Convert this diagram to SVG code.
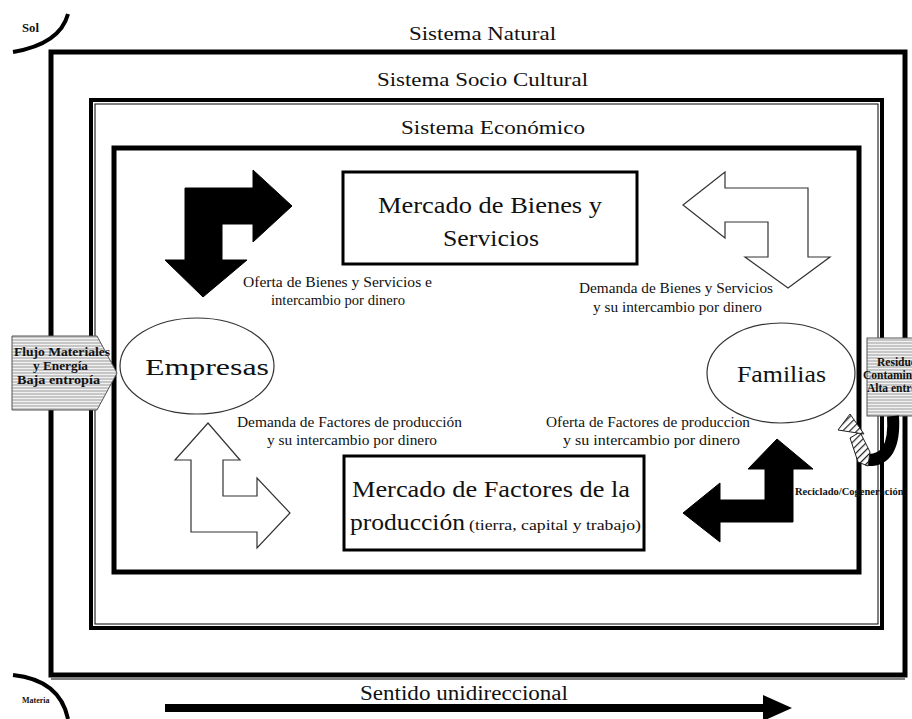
<svg xmlns="http://www.w3.org/2000/svg" width="912" height="719" viewBox="0 0 912 719">
<style>
.t{font-family:"Liberation Serif","Times New Roman",serif;fill:#111}
.sys{font-size:19px}
.big{font-size:24px}
.lbl{font-size:14px}
.bx{font-size:11.5px;font-weight:bold}
.frame{fill:none;stroke:#000}
.blk{fill:#000;stroke:#000;stroke-width:1}
.wht{fill:#fff;stroke:#333;stroke-width:1.2}
.ell{fill:#fff;stroke:#333;stroke-width:1.2}
</style>
<defs>
<pattern id="hz" width="4" height="3" patternUnits="userSpaceOnUse">
<rect width="4" height="3" fill="#f2f2f2"/>
<line x1="0" y1="1" x2="4" y2="1" stroke="#9a9a9a" stroke-width="1"/>
</pattern>
<pattern id="dg" width="5" height="5" patternUnits="userSpaceOnUse" patternTransform="rotate(45)">
<rect width="5" height="5" fill="#fff"/>
<line x1="0" y1="0" x2="0" y2="5" stroke="#222" stroke-width="2.4"/>
</pattern>
</defs>
<rect width="912" height="719" fill="#fff"/>

<g id="sol">
<path d="M13 52 Q60 44 68 14" fill="none" stroke="#000" stroke-width="4"/>
<text class="t" x="22" y="32" font-size="13" font-weight="bold" textLength="17" lengthAdjust="spacingAndGlyphs">Sol</text>
</g>

<g id="sistema-natural">
<rect class="frame" x="51" y="52" width="854" height="623" stroke-width="5"/>
<line x1="51" y1="679" x2="905" y2="679" stroke="#000" stroke-width="1"/>
<text class="t sys" x="409" y="40" textLength="147" lengthAdjust="spacingAndGlyphs">Sistema Natural</text>
</g>

<g id="sistema-socio-cultural">
<rect class="frame" x="91" y="100" width="791" height="528" stroke-width="4"/>
<rect class="frame" x="95" y="104" width="783" height="520" stroke-width="1"/>
<text class="t sys" x="377" y="86" textLength="211" lengthAdjust="spacingAndGlyphs">Sistema Socio Cultural</text>
</g>

<g id="sistema-economico">
<rect class="frame" x="114" y="148" width="745" height="424" stroke-width="5"/>
<text class="t sys" x="401" y="134" textLength="184" lengthAdjust="spacingAndGlyphs">Sistema Económico</text>
</g>

<g id="mercado-bienes">
<rect x="343" y="172" width="294" height="92" fill="#fff" stroke="#000" stroke-width="3"/>
<text class="t big" x="378" y="213" textLength="224" lengthAdjust="spacingAndGlyphs">Mercado de Bienes y</text>
<text class="t big" x="443" y="246" textLength="96" lengthAdjust="spacingAndGlyphs">Servicios</text>
</g>

<g id="mercado-factores">
<rect x="344" y="456" width="300" height="94" fill="#fff" stroke="#000" stroke-width="3"/>
<text class="t big" x="352" y="497" textLength="278" lengthAdjust="spacingAndGlyphs">Mercado de Factores de la</text>
<text class="t big" x="350" y="530" textLength="115" lengthAdjust="spacingAndGlyphs">producción</text>
<text class="t" x="469" y="530" font-size="15" textLength="172" lengthAdjust="spacingAndGlyphs">(tierra, capital y trabajo)</text>
</g>

<g id="empresas">
<ellipse class="ell" cx="197" cy="366" rx="77" ry="48"/>
<text class="t" x="145" y="375" font-size="24" textLength="124" lengthAdjust="spacingAndGlyphs">Empresas</text>
</g>

<g id="familias">
<ellipse class="ell" cx="781" cy="373" rx="74" ry="50"/>
<text class="t" x="737" y="382" font-size="23" textLength="89" lengthAdjust="spacingAndGlyphs">Familias</text>
</g>

<g id="flujo-materiales">
<polygon points="12,336 97,336 117,373 97,410 12,410" fill="url(#hz)" stroke="#555" stroke-width="1"/>
<text class="t bx" x="14" y="356" textLength="96" lengthAdjust="spacingAndGlyphs">Flujo Materiales</text>
<text class="t bx" x="33" y="370" textLength="55" lengthAdjust="spacingAndGlyphs">y Energía</text>
<text class="t bx" x="17" y="384" textLength="83" lengthAdjust="spacingAndGlyphs">Baja entropía</text>
</g>

<g id="residuos">
<rect x="867" y="338" width="60" height="78" fill="url(#hz)" stroke="#555" stroke-width="1"/>
<text class="t bx" x="877" y="366" font-size="12">Residuos</text>
<text class="t bx" x="863" y="379" font-size="12">Contaminación</text>
<text class="t bx" x="867" y="392" font-size="12">Alta entropía</text>
</g>

<g id="connectors">
<polygon class="blk" points="185,188 253,188 253,170 292,206 253,242 253,224 222,224 222,260 247,260 203,297 165,260 185,260"/>
<polygon class="wht" points="683,205 725,172 725,188 808,188 808,257 830,257 788,288 745,257 768,257 768,222 725,222 725,238"/>
<polygon class="wht" points="208,423 240,460 223,460 223,496 257,496 257,478 290,513 257,548 257,532 191,532 191,460 175,460"/>
<polygon class="blk" points="777,439 813,469 793,469 793,522 720,522 720,542 683,513 720,483 720,500 765,500 765,469 748,469"/>
<path d="M893 416 Q896 462 866 460" fill="none" stroke="#000" stroke-width="12"/>
<polygon points="868,466 858,462 850,438 860,432 870,452" fill="url(#dg)" stroke="#222" stroke-width="1"/>
<polygon points="838,430 850,414 864,434" fill="url(#dg)" stroke="#222" stroke-width="1"/>
<line x1="165" y1="708" x2="765" y2="708" stroke="#000" stroke-width="8"/>
<polygon points="763,695 792,708 763,721" fill="#000"/>
<path d="M13 675 Q60 680 68 719" fill="none" stroke="#000" stroke-width="4"/>
</g>

<g id="labels">
<text class="t lbl" x="243" y="287" textLength="189" lengthAdjust="spacingAndGlyphs">Oferta de Bienes y Servicios e</text>
<text class="t lbl" x="271" y="305" textLength="134" lengthAdjust="spacingAndGlyphs">intercambio por dinero</text>
<text class="t lbl" x="579" y="293" textLength="194" lengthAdjust="spacingAndGlyphs">Demanda de Bienes y Servicios</text>
<text class="t lbl" x="593" y="312" textLength="169" lengthAdjust="spacingAndGlyphs">y su intercambio por dinero</text>
<text class="t lbl" x="237" y="427" textLength="225" lengthAdjust="spacingAndGlyphs">Demanda de Factores de producción</text>
<text class="t lbl" x="267" y="445" textLength="170" lengthAdjust="spacingAndGlyphs">y su intercambio por dinero</text>
<text class="t lbl" x="546" y="427" textLength="204" lengthAdjust="spacingAndGlyphs">Oferta de Factores de produccion</text>
<text class="t lbl" x="563" y="445" textLength="177" lengthAdjust="spacingAndGlyphs">y  su intercambio por dinero</text>
<text class="t" x="795" y="495" font-size="10.5" font-weight="bold">Reciclado/Cogeneración</text>
<text class="t" x="22" y="703" font-size="8" font-weight="bold">Materia</text>
<text class="t" x="360" y="700" font-size="20" textLength="208" lengthAdjust="spacingAndGlyphs">Sentido unidireccional</text>
</g>
</svg>
